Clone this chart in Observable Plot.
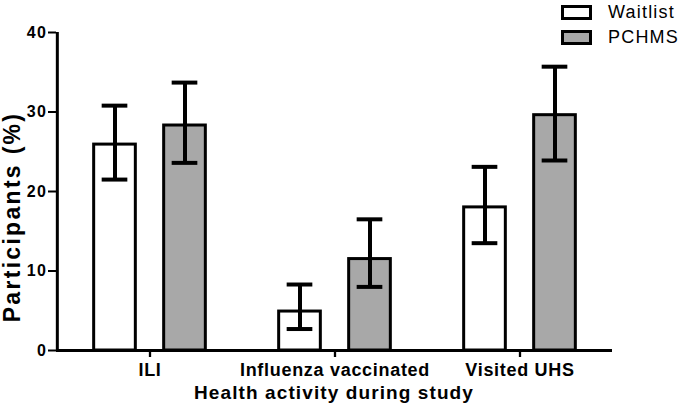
<!DOCTYPE html>
<html>
<head>
<meta charset="utf-8">
<script src="https://cdn.jsdelivr.net/npm/d3@7"></script>
<script src="https://cdn.jsdelivr.net/npm/@observablehq/plot@0.6"></script>
<style>
  html, body { margin: 0; padding: 0; background: #fff; }
  #wrap { position: relative; width: 683px; height: 414px; overflow: hidden; }
  #wrap svg { font-family: "Liberation Sans", Arial, sans-serif; }
  #wrap svg [aria-label="y-axis tick label"] text { font-weight: bold; font-size: 16px; letter-spacing: 1.5px; }
  #wrap svg [aria-label="x-axis tick label"] text { font-weight: bold; font-size: 18px; letter-spacing: 0.7px; }
  .legend { position: absolute; left: 561px; top: 0px; font-family: "Liberation Sans", Arial, sans-serif; font-size: 18px; letter-spacing: 1.2px; color: #000; }
  .legend .item { display: flex; align-items: center; height: 25px; }
  .legend .sw { width: 25px; height: 9px; border: 3px solid #000; margin-right: 16px; }
</style>
</head>
<body>
<div id="wrap"></div>
<script>
const categories = ["ILI", "Influenza vaccinated", "Visited UHS"];
const groups = ["Waitlist", "PCHMS"];
const waitlistValues = [25.9, 4.9, 18.0];
const waitlistLow = [21.5, 2.7, 13.5];
const waitlistHigh = [30.8, 8.3, 23.1];
const pchmsValues = [28.3, 11.5, 29.6];
const pchmsLow = [23.6, 8.0, 23.9];
const pchmsHigh = [33.7, 16.5, 35.7];
const yTicks = [0, 10, 20, 30, 40];
const groupColors = ["#ffffff", "#a8a8a8"];
const xTitle = "Health activity during study";
const yTitle = "Participants (%)";

const wait = categories.map((c, i) => ({category: c, group: groups[0], value: waitlistValues[i], low: waitlistLow[i], high: waitlistHigh[i]}));
const pchms = categories.map((c, i) => ({category: c, group: groups[1], value: pchmsValues[i], low: pchmsLow[i], high: pchmsHigh[i]}));

const W = 683, H = 414;
const mL = 56, mR = 71, mT = 32, mB = 64;
const step = (W - mL - mR) / categories.length;
const off = 35;          // offset of each bar centre from the band centre
const barW = 42;         // bar width (stroke centre)
const capW = 26;         // error bar cap width
const inA = step / 2 - off - barW / 2;
const inB = step - inA - barW;
const capA = step / 2 - off - capW / 2;
const capB = step - capA - capW;

const chart = Plot.plot({
  width: W, height: H,
  marginLeft: mL, marginRight: mR, marginTop: mT, marginBottom: mB,
  x: {domain: categories, padding: 0, label: null},
  y: {domain: [0, 40], label: null},
  marks: [
    Plot.barY(wait, {x: "category", y: "value", fill: groupColors[0], stroke: "black", strokeWidth: 3, insetLeft: inA, insetRight: inB}),
    Plot.barY(pchms, {x: "category", y: "value", fill: groupColors[1], stroke: "black", strokeWidth: 3, insetLeft: inB, insetRight: inA}),
    Plot.ruleX(wait, {x: "category", y1: "low", y2: "high", dx: -off, stroke: "black", strokeWidth: 4}),
    Plot.ruleX(pchms, {x: "category", y1: "low", y2: "high", dx: off, stroke: "black", strokeWidth: 4}),
    Plot.tickY(wait, {x: "category", y: "low", insetLeft: capA, insetRight: capB, stroke: "black", strokeWidth: 4}),
    Plot.tickY(wait, {x: "category", y: "high", insetLeft: capA, insetRight: capB, stroke: "black", strokeWidth: 4}),
    Plot.tickY(pchms, {x: "category", y: "low", insetLeft: capB, insetRight: capA, stroke: "black", strokeWidth: 4}),
    Plot.tickY(pchms, {x: "category", y: "high", insetLeft: capB, insetRight: capA, stroke: "black", strokeWidth: 4}),
    Plot.ruleY([0], {stroke: "black", strokeWidth: 3}),
    Plot.ruleX([categories[0]], {dx: -step / 2, y1: 0, y2: 40, stroke: "black", strokeWidth: 3}),
    Plot.axisY({ticks: yTicks, tickSize: 8, tickPadding: 1, strokeWidth: 2, label: null, tickFormat: d => String(d)}),
    Plot.axisX({tickSize: 7, tickPadding: 6, strokeWidth: 2.3, label: null})
  ]
});

const svg = d3.select(chart);
svg.append("text")
  .attr("transform", `translate(${mL + (W - mL - mR) / 2}, 399)`)
  .attr("text-anchor", "middle")
  .style("font-weight", "bold").style("font-size", "19px").style("letter-spacing", "1.1px")
  .text(xTitle);
svg.append("text")
  .attr("transform", "translate(20, 217) rotate(-90)")
  .attr("text-anchor", "middle")
  .style("font-weight", "bold").style("font-size", "23px").style("letter-spacing", "2.3px")
  .text(yTitle);

const wrap = document.getElementById("wrap");
wrap.appendChild(chart);

const legend = document.createElement("div");
legend.className = "legend";
groups.forEach((g, i) => {
  const item = document.createElement("div");
  item.className = "item";
  const sw = document.createElement("span");
  sw.className = "sw";
  sw.style.background = groupColors[i];
  const lab = document.createElement("span");
  lab.textContent = g;
  item.appendChild(sw);
  item.appendChild(lab);
  legend.appendChild(item);
});
wrap.appendChild(legend);
</script>
</body>
</html>
